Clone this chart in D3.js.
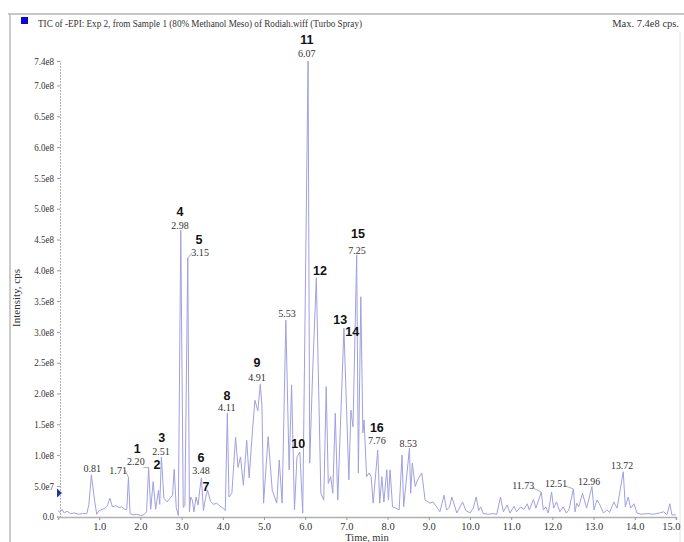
<!DOCTYPE html>
<html>
<head>
<meta charset="utf-8">
<script src="https://cdn.jsdelivr.net/npm/d3@7"></script>
<style>
  body { margin: 0; background: #fff; }
  svg { display: block; }
  text.serif { font-family: "Liberation Serif", "DejaVu Serif", serif; fill: #333; }
  text.peak-num { font-family: "Liberation Sans", Arial, sans-serif; font-weight: bold; fill: #111; }
</style>
</head>
<body>
<svg id="chart" width="684" height="542"></svg>
<script>
// intensity values in units of 1e8 cps
const trace = [
  [0.00,0.10],[0.05,0.07],[0.10,0.12],[0.15,0.06],[0.22,0.09],[0.30,0.05],[0.40,0.06],[0.50,0.04],
  [0.60,0.05],[0.70,0.05],[0.75,0.20],[0.81,0.68],[0.88,0.30],[0.94,0.04],[1.00,0.10],[1.08,0.12],
  [1.15,0.14],[1.20,0.18],[1.26,0.30],[1.32,0.16],[1.40,0.18],[1.48,0.15],[1.55,0.16],[1.62,0.12],
  [1.67,0.12],[1.71,0.64],[1.75,0.05],[1.82,0.03],[1.90,0.04],[2.00,0.02],[2.08,0.03],[2.15,0.08],
  [2.20,0.80],[2.25,0.12],[2.31,0.57],[2.37,0.12],[2.44,0.43],[2.47,0.20],[2.51,0.97],[2.57,0.30],
  [2.65,0.24],[2.72,0.30],[2.78,0.35],[2.82,0.77],[2.87,0.15],[2.92,0.02],[2.98,4.65],[3.04,0.15],
  [3.08,0.18],[3.15,4.20],[3.19,0.08],[3.22,0.32],[3.26,0.27],[3.30,0.08],[3.35,0.32],[3.40,0.19],
  [3.44,0.43],[3.48,0.63],[3.53,0.10],[3.58,0.30],[3.63,0.43],[3.70,0.25],[3.78,0.20],[3.85,0.22],
  [3.92,0.18],[4.00,0.14],[4.06,0.10],[4.11,1.68],[4.15,0.32],[4.22,0.38],[4.31,1.29],[4.37,0.80],
  [4.43,0.97],[4.50,0.51],[4.58,1.24],[4.64,0.63],[4.72,1.40],[4.78,1.89],[4.85,1.72],[4.91,2.15],
  [4.95,1.80],[4.99,0.22],[5.10,1.30],[5.20,0.43],[5.31,0.22],[5.37,0.92],[5.44,0.22],[5.53,3.19],
  [5.61,0.76],[5.67,2.14],[5.74,0.11],[5.80,0.97],[5.87,1.05],[5.94,0.06],[6.07,7.40],[6.11,0.87],
  [6.18,2.33],[6.27,3.88],[6.38,0.38],[6.45,0.27],[6.51,2.11],[6.56,0.54],[6.62,0.65],[6.67,0.38],
  [6.73,1.68],[6.79,0.27],[6.94,3.06],[7.06,0.60],[7.11,1.73],[7.16,1.46],[7.25,4.25],[7.29,0.71],
  [7.35,3.57],[7.40,1.36],[7.43,1.57],[7.49,0.65],[7.55,0.71],[7.60,0.65],[7.65,0.22],[7.76,1.08],
  [7.81,0.22],[7.86,0.65],[7.91,0.24],[7.98,0.76],[8.02,0.27],[8.06,0.76],[8.12,0.16],[8.20,0.14],
  [8.28,0.11],[8.35,1.00],[8.39,0.16],[8.53,1.11],[8.56,0.38],[8.60,0.87],[8.67,0.49],[8.73,0.60],
  [8.83,0.71],[8.91,0.27],[9.03,0.22],[9.10,0.24],[9.19,0.16],[9.27,0.08],[9.37,0.35],[9.43,0.11],
  [9.50,0.15],[9.56,0.32],[9.68,0.06],[9.82,0.24],[9.90,0.10],[10.00,0.06],[10.08,0.14],[10.15,0.32],
  [10.21,0.10],[10.26,0.16],[10.32,0.05],[10.45,0.04],[10.55,0.05],[10.65,0.04],[10.74,0.32],[10.81,0.08],
  [10.90,0.19],[10.97,0.06],[11.07,0.17],[11.13,0.08],[11.23,0.16],[11.31,0.12],[11.39,0.21],[11.44,0.11],
  [11.54,0.28],[11.60,0.14],[11.73,0.40],[11.78,0.11],[11.84,0.16],[11.90,0.06],[11.98,0.40],[12.03,0.14],
  [12.10,0.24],[12.18,0.08],[12.26,0.16],[12.34,0.06],[12.40,0.11],[12.51,0.45],[12.55,0.08],[12.59,0.22],
  [12.64,0.16],[12.73,0.38],[12.83,0.14],[12.96,0.49],[13.01,0.11],[13.08,0.27],[13.14,0.21],[13.24,0.06],
  [13.32,0.11],[13.39,0.07],[13.49,0.24],[13.57,0.14],[13.72,0.73],[13.77,0.16],[13.84,0.32],[13.90,0.14],
  [13.98,0.21],[14.05,0.06],[14.15,0.04],[14.30,0.05],[14.45,0.04],[14.60,0.06],[14.70,0.08],[14.78,0.03],
  [14.85,0.21],[14.90,0.03],[15.00,0.03]
];

// retention time labels: [text, label time, label intensity]
const rtLabels = [
  ["0.81",0.83,0.73],["1.71",1.46,0.69],["2.20",1.89,0.84],["2.51",2.50,1.00],
  ["2.98",2.96,4.67],["3.15",3.45,4.23],["3.48",3.47,0.69],["4.11",4.10,1.72],
  ["4.91",4.83,2.20],["5.53",5.56,3.24],["6.07",6.04,7.46],["7.25",7.26,4.27],
  ["7.76",7.74,1.18],["8.53",8.50,1.13],["11.73",11.29,0.45],["12.51",12.09,0.48],
  ["12.96",12.89,0.52],["13.72",13.69,0.78]
];

// peak numbers: [text, label time, label intensity]
const peakNums = [
  ["1",1.92,1.03],["2",2.40,0.77],["3",2.52,1.21],["4",2.96,4.88],["5",3.42,4.43],
  ["6",3.47,0.89],["7",3.59,0.42],["8",4.10,1.89],["9",4.83,2.43],["10",5.83,1.12],
  ["11",6.04,7.67],["12",6.36,3.92],["13",6.85,3.13],["14",7.14,2.93],["15",7.28,4.52],
  ["16",7.74,1.38]
];

// leader ticks from a label to its peak: [from time, from intensity, peak time]
const leaders = [
  [1.63,0.75,1.71],[2.07,0.80,2.20],[3.25,4.28,3.15],[11.52,0.47,11.73],[12.31,0.50,12.51]
];

const xTicks = d3.range(1, 16);
const yTicks = [0, 0.5, 1.0, 1.5, 2.0, 2.5, 3.0, 3.5, 4.0, 4.5, 5.0, 5.5, 6.0, 6.5, 7.0, 7.4];
const yTickLabels = ["0.0","5.0e7","1.0e8","1.5e8","2.0e8","2.5e8","3.0e8","3.5e8","4.0e8",
  "4.5e8","5.0e8","5.5e8","6.0e8","6.5e8","7.0e8","7.4e8"];

const titleText = "TIC of -EPI: Exp 2, from Sample 1 (80% Methanol Meso) of Rodiah.wiff (Turbo Spray)";
const maxText = "Max. 7.4e8 cps.";

const serif = "'Liberation Serif', 'DejaVu Serif', serif";
const svg = d3.select("#chart");
const x = d3.scaleLinear().domain([0, 15]).range([58, 676]);
const y = d3.scaleLinear().domain([0, 7.4]).range([516.7, 60.9]);

// frame
svg.append("line").attr("x1", 8).attr("x2", 684).attr("y1", 14).attr("y2", 14)
  .attr("stroke", "#b5b5b5").attr("stroke-width", 1.5);
svg.append("line").attr("x1", 10).attr("x2", 10).attr("y1", 14).attr("y2", 542)
  .attr("stroke", "#bdbdbd").attr("stroke-width", 1.5);
svg.append("line").attr("x1", 680).attr("x2", 680).attr("y1", 32).attr("y2", 542)
  .attr("stroke", "#e2e2e2").attr("stroke-width", 1);

// header
svg.append("rect").attr("x", 21).attr("y", 17).attr("width", 7).attr("height", 7).attr("fill", "#0a0ad8");
svg.append("text").attr("class", "serif").attr("font-family", serif).attr("x", 38).attr("y", 27)
  .attr("font-size", 11).attr("textLength", 324).attr("lengthAdjust", "spacingAndGlyphs")
  .text(titleText);
svg.append("text").attr("class", "serif").attr("font-family", serif).attr("x", 679).attr("y", 27)
  .attr("text-anchor", "end").attr("font-size", 10.5).text(maxText);

// y axis
const yAxis = svg.append("g").attr("transform", "translate(60,0)")
  .call(d3.axisLeft(y).tickValues(yTicks).tickSize(3).tickPadding(3)
    .tickFormat((d, i) => yTickLabels[i]));
yAxis.attr("font-family", serif);
yAxis.select(".domain").attr("stroke", "#9a9a9a").attr("stroke-dasharray", "1.5,1.5");
yAxis.selectAll(".tick line").attr("stroke", "#9a9a9a");
yAxis.selectAll(".tick text").attr("class", "serif").attr("font-size", 10)
  .attr("textLength", function() { return this.getComputedTextLength() * 0.9; })
  .attr("lengthAdjust", "spacingAndGlyphs");

// x axis
const xAxis = svg.append("g").attr("transform", "translate(0,517)")
  .call(d3.axisBottom(x).tickValues(xTicks).tickSize(3).tickPadding(3)
    .tickFormat(d3.format(".1f")));
xAxis.attr("font-family", serif);
xAxis.select(".domain").attr("stroke", "#b0b0b0").attr("stroke-width", 1.5);
xAxis.selectAll(".tick line").attr("stroke", "#9a9a9a");
xAxis.selectAll(".tick text").attr("class", "serif").attr("font-size", 10.5);
// keep the last label inside the page
xAxis.selectAll(".tick text").filter(d => d === 15).attr("text-anchor", "end").attr("dx", 4);

svg.append("text").attr("class", "serif").attr("font-family", serif).attr("x", 367).attr("y", 540.5)
  .attr("text-anchor", "middle").attr("font-size", 10.5).text("Time, min");
svg.append("text").attr("class", "serif").attr("font-family", serif)
  .attr("transform", "translate(20,298) rotate(-90)")
  .attr("text-anchor", "middle").attr("font-size", 11).text("Intensity, cps");

// marker on y axis
svg.append("path").attr("d", "M57,488.5L62,493L57,497.5Z").attr("fill", "#2233aa");

// trace
const line = d3.line().x(d => x(d[0])).y(d => y(d[1]));
svg.append("path").datum(trace).attr("d", line)
  .attr("fill", "none").attr("stroke", "#a0a0e2").attr("stroke-width", 1)
  .attr("stroke-linejoin", "round");

// leaders
svg.selectAll("line.leader").data(leaders).enter().append("line").attr("class", "leader")
  .attr("x1", d => x(d[0])).attr("y1", d => y(d[1]))
  .attr("x2", d => x(d[2])).attr("y2", d => y(trace.find(p => p[0] === d[2])[1]))
  .attr("stroke", "#9a9aa8").attr("stroke-width", 0.8);

// labels
svg.selectAll("text.rt").data(rtLabels).enter().append("text")
  .attr("class", "serif rt").attr("font-family", serif)
  .attr("x", d => x(d[1])).attr("y", d => y(d[2]))
  .attr("text-anchor", "middle").attr("font-size", 10.5)
  .attr("textLength", function(d) { return d[0].length * 4.4; })
  .attr("lengthAdjust", "spacingAndGlyphs").text(d => d[0]);

svg.selectAll("text.num").data(peakNums).enter().append("text")
  .attr("class", "peak-num num").attr("x", d => x(d[1])).attr("y", d => y(d[2]))
  .attr("text-anchor", "middle").attr("font-size", 12.5).text(d => d[0]);
</script>
</body>
</html>
